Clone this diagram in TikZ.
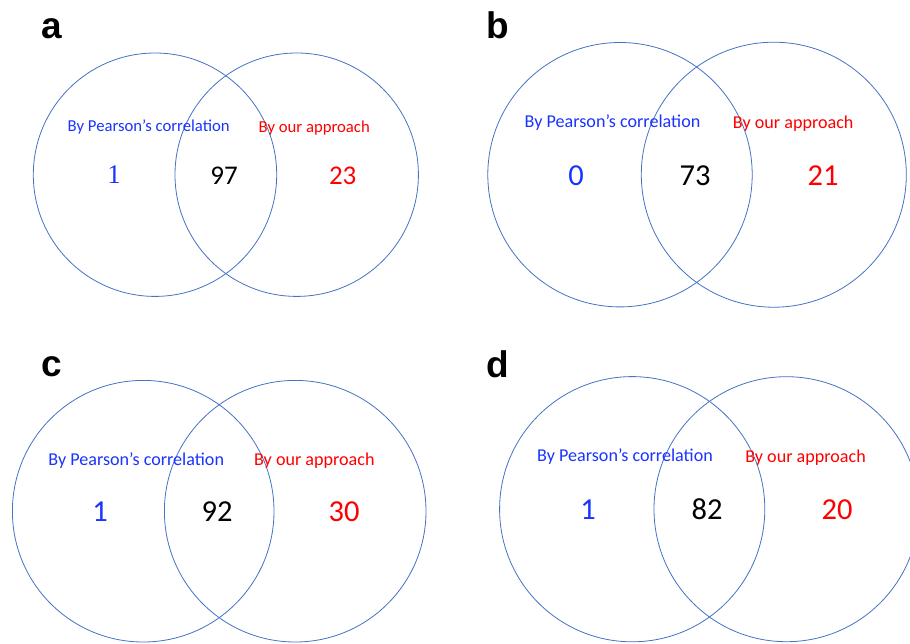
\documentclass[tikz,border=0pt]{standalone}
\usepackage{fontspec}
\setmainfont{Carlito}
\newfontfamily\panelfont{Liberation Sans}
\newfontfamily\numserif{Liberation Serif}
\usetikzlibrary{positioning}
\definecolor{vennline}{HTML}{4472C4}
\definecolor{vennblue}{HTML}{1A33FF}
\definecolor{vennred}{HTML}{FF0000}
\definecolor{vennink}{HTML}{000000}
\tikzset{
  set/.style={circle,draw=vennline,line width=0.8pt,inner sep=0pt,minimum size=#1},
  tag/.style={anchor=base west,inner sep=0pt,font=\panelfont\bfseries\fontsize{37}{37}\selectfont},
  pearson/.style={anchor=base,inner sep=0pt,text=vennblue,font=\fontsize{#1}{#1}\selectfont},
  ours/.style={anchor=base,inner sep=0pt,text=vennred,font=\fontsize{#1}{#1}\selectfont},
  only/.style={anchor=base,inner sep=0pt,text=vennblue,font=\fontsize{#1}{#1}\selectfont},
  both/.style={anchor=base,inner sep=0pt,text=vennink,font=\fontsize{#1}{#1}\selectfont},
  extra/.style={anchor=base,inner sep=0pt,text=vennred,font=\fontsize{#1}{#1}\selectfont}
}
\begin{document}
\begin{tikzpicture}[x=1pt,y=-1pt]
  \useasboundingbox (0,0) rectangle (910,643);
  \clip (0,0) rectangle (910,643);

  % panel a
  \node[tag] (tagA) at (41.5,38.3) {a};
  \node[set=243.4pt] (aPear) at (155,174.7) {};
  \node[set=243.4pt] (aOurs) at (296.7,174.7) {};
  \node[pearson=16.7] (aPearTxt) at (148.7,131.7) {By Pearson’s correlation};
  \node[ours=16.7] (aOursTxt) at (314.2,132.2) {By our approach};
  \node[only=27,font=\numserif\fontsize{27}{27}\selectfont] (aOnly) at (114,183.5) {1};
  \node[both=27] (aBoth) at (224,184) {97};
  \node[extra=27] (aExtra) at (342.7,184) {23};

  % panel b
  \node[tag] (tagB) at (486.5,38.3) {b};
  \node[set=264.4pt] (bPear) at (620,174.7) {};
  \node[set=265pt] (bOurs) at (773.8,174.7) {};
  \node[pearson=18.1] (bPearTxt) at (612.5,127.3) {By Pearson’s correlation};
  \node[ours=18.1] (bOursTxt) at (793.2,128) {By our approach};
  \node[only=30.5] (bOnly) at (576,185) {0};
  \node[both=30.5] (bBoth) at (695,185) {73};
  \node[extra=30.5] (bExtra) at (823,185) {21};

  % panel c
  \node[tag] (tagC) at (41.5,376) {c};
  \node[set=261.6pt] (cPear) at (143.2,511.2) {};
  \node[set=261.6pt] (cOurs) at (295.2,511.2) {};
  \node[pearson=18.1] (cPearTxt) at (136.2,465) {By Pearson’s correlation};
  \node[ours=18.1] (cOursTxt) at (314.3,465.7) {By our approach};
  \node[only=30.5] (cOnly) at (100,521.7) {1};
  \node[both=30.5] (cBoth) at (217,521.7) {92};
  \node[extra=30.5] (cExtra) at (344,521.7) {30};

  % panel d
  \node[tag] (tagD) at (486.5,377) {d};
  \node[set=265.2pt] (dPear) at (632.2,509.2) {};
  \node[set=265pt] (dOurs) at (786.5,509.2) {};
  \node[pearson=18.1] (dPearTxt) at (625,461.7) {By Pearson’s correlation};
  \node[ours=18.1] (dOursTxt) at (805.5,462.3) {By our approach};
  \node[only=30.5] (dOnly) at (588,519.3) {1};
  \node[both=30.5] (dBoth) at (707,519.3) {82};
  \node[extra=30.5] (dExtra) at (837,519.3) {20};
\end{tikzpicture}
\end{document}
